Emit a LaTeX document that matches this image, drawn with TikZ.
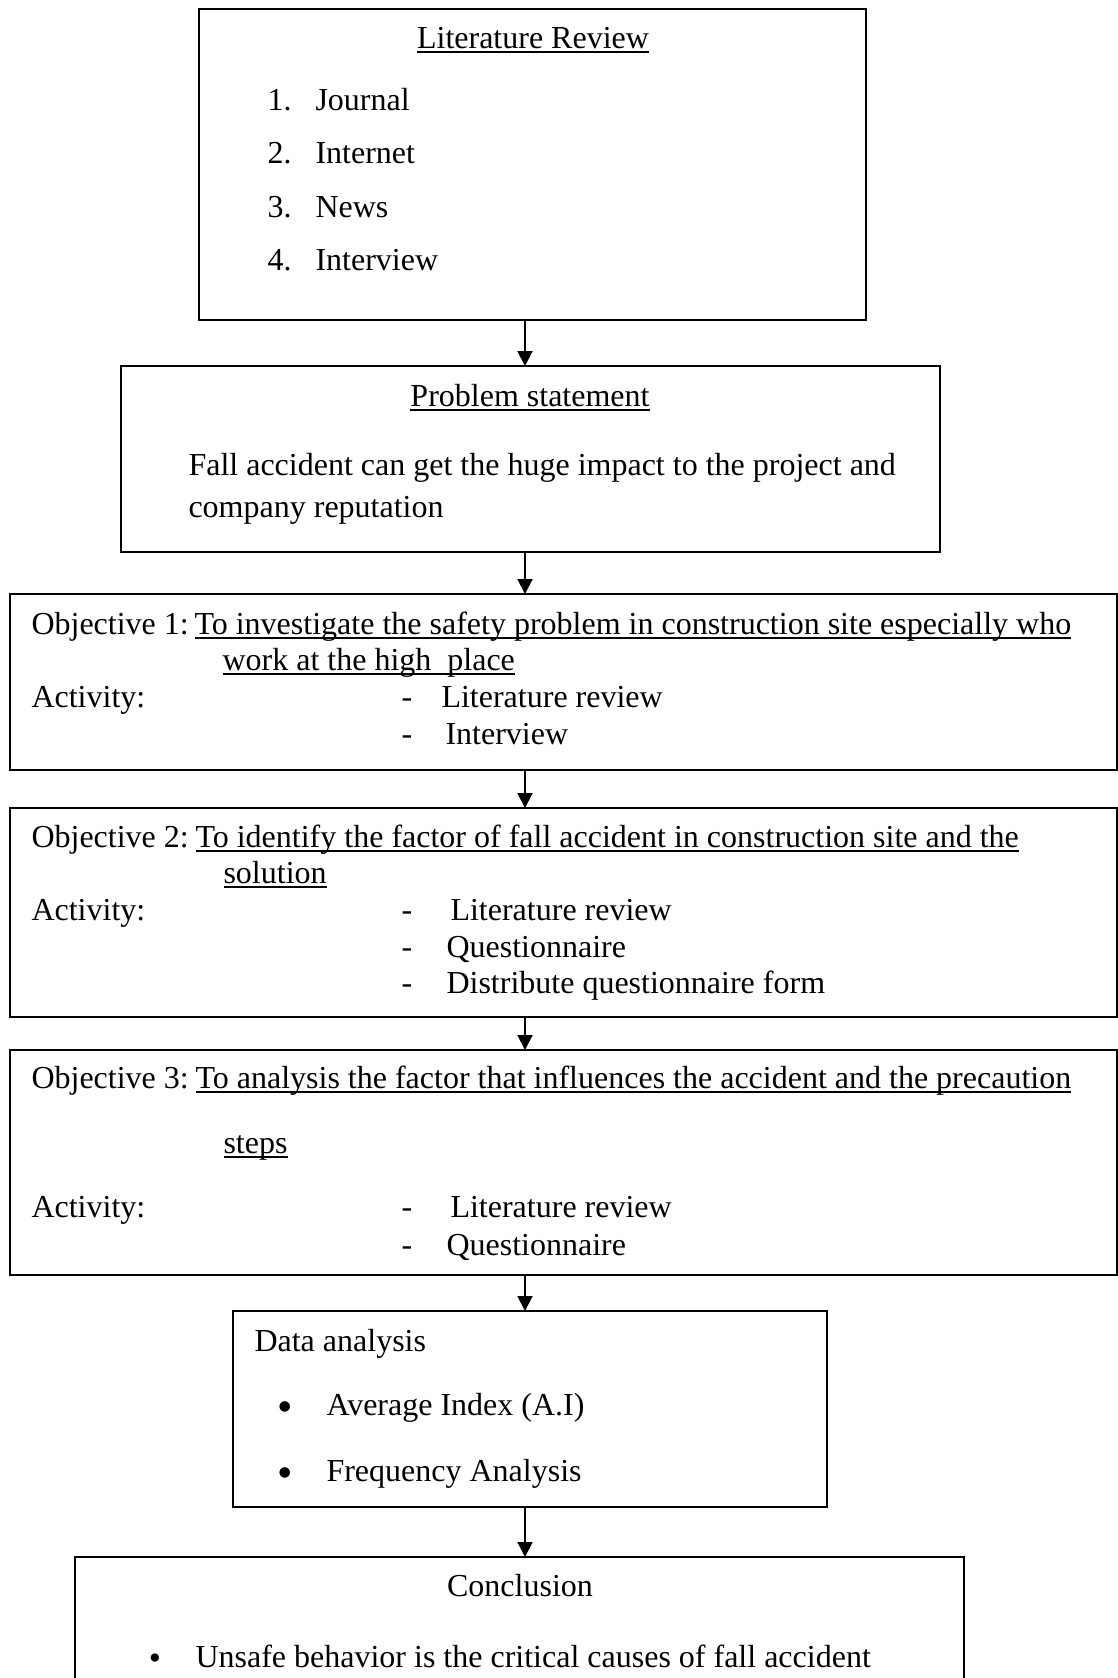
\documentclass[tikz,border=0pt]{standalone}
\usepackage{fontspec}
\setmainfont{Liberation Serif}
\usetikzlibrary{arrows.meta}
\newcommand{\ulx}[1]{\setbox0\hbox{#1}\rlap{\rule[-1.8pt]{\wd0}{0.6pt}}\box0}
\newcommand{\bx}[5]{\node[boxline,anchor=north west,minimum width={(#4-#2)*0.375pt},minimum height={(#5-#3)*0.375pt}] (#1) at (#2,#3) {};}
\newcommand{\bigbul}{\raisebox{-2.25pt}[\height][0pt]{\fontsize{16.5pt}{17pt}\selectfont •}}
\begin{document}
\begin{tikzpicture}[x=0.375pt,y=-0.375pt,
  boxline/.style={draw=black,line width=0.75pt,rectangle,inner sep=0pt,outer sep=0pt},
  txt/.style={anchor=base west,inner sep=0pt,font=\fontsize{12pt}{14pt}\selectfont},
  ctxt/.style={anchor=base,inner sep=0pt,font=\fontsize{12pt}{14pt}\selectfont},
  arr/.style={line width=0.75pt,-{Triangle[length=5.6pt,width=5.6pt]}}]
\useasboundingbox (0,0) rectangle (1118,1678);
\clip (0,0) rectangle (1118,1678);
\coordinate (ax) at (525,0);
% boxes
\bx{lit}{199}{9}{866}{320}
\bx{prob}{121}{366}{940}{552}
\bx{obj1}{10}{594}{1117}{770}
\bx{obj2}{10}{808}{1117}{1017}
\bx{obj3}{10}{1050}{1117}{1275}
\bx{data}{233}{1311}{827}{1507}
\bx{concl}{75}{1557}{964}{1700}
% arrows
\draw[arr] (lit.south -| ax) -- (prob.north -| ax);
\draw[arr] (prob.south -| ax) -- (obj1.north -| ax);
\draw[arr] (obj1.south -| ax) -- (obj2.north -| ax);
\draw[arr] (obj2.south -| ax) -- (obj3.north -| ax);
\draw[arr] (obj3.south -| ax) -- (data.north -| ax);
\draw[arr] (data.south -| ax) -- (concl.north -| ax);
% literature review
\node[ctxt] (litT) at (533,48) {\ulx{Literature Review}};
\node[txt] (litN1) at (267,110) {1.};
\node[txt] (litI1) at (315,110) {Journal};
\node[txt] (litN2) at (267,163) {2.};
\node[txt] (litI2) at (315,163) {Internet};
\node[txt] (litN3) at (267,217) {3.};
\node[txt] (litI3) at (315,217) {News};
\node[txt] (litN4) at (267,270) {4.};
\node[txt] (litI4) at (315,270) {Interview};
% problem statement
\node[ctxt] (probT) at (530,406) {\ulx{Problem statement}};
\node[txt] (probL1) at (188,475) {Fall accident can get the huge impact to the project and};
\node[txt] (probL2) at (188,517) {company reputation};
% objective 1
\node[txt] (o1a) at (31,634) {Objective 1:};
\node[txt] (o1b) at (194,634) {\ulx{To investigate the safety problem in construction site especially who}};
\node[txt] (o1c) at (222,670) {\ulx{work at the high\ \ place}};
\node[txt] (o1act) at (31,707) {Activity:};
\node[txt] (o1d1) at (401,707) {-};
\node[txt] (o1i1) at (441,707) {Literature review};
\node[txt] (o1d2) at (401,744) {-};
\node[txt] (o1i2) at (445,744) {Interview};
% objective 2
\node[txt] (o2a) at (31,847) {Objective 2:};
\node[txt] (o2b) at (195,847) {\ulx{To identify the factor of fall accident in construction site and the}};
\node[txt] (o2c) at (223,883) {\ulx{solution}};
\node[txt] (o2act) at (31,920) {Activity:};
\node[txt] (o2d1) at (401,920) {-};
\node[txt] (o2i1) at (450,920) {Literature review};
\node[txt] (o2d2) at (401,957) {-};
\node[txt] (o2i2) at (446,957) {Questionnaire};
\node[txt] (o2d3) at (401,993) {-};
\node[txt] (o2i3) at (446,993) {Distribute questionnaire form};
% objective 3
\node[txt] (o3a) at (31,1088) {Objective 3:};
\node[txt] (o3b) at (195,1088) {\ulx{To analysis the factor that influences the accident and the precaution}};
\node[txt] (o3c) at (223,1153) {\ulx{steps}};
\node[txt] (o3act) at (31,1217) {Activity:};
\node[txt] (o3d1) at (401,1217) {-};
\node[txt] (o3i1) at (450,1217) {Literature review};
\node[txt] (o3d2) at (401,1255) {-};
\node[txt] (o3i2) at (446,1255) {Questionnaire};
% data analysis
\node[txt] (dT) at (254,1351) {Data analysis};
\node[ctxt] (dB1) at (285,1415) {\bigbul};
\node[txt] (dI1) at (326,1415) {Average Index (A.I)};
\node[ctxt] (dB2) at (285,1481) {\bigbul};
\node[txt] (dI2) at (326,1481) {Frequency Analysis};
% conclusion
\node[ctxt] (cT) at (520,1596) {Conclusion};
\node[anchor=base,inner sep=0pt,font=\fontsize{13pt}{14pt}\selectfont] (cB1) at (155,1669) {•};
\node[txt] (cI1) at (195,1667) {Unsafe behavior is the critical causes of fall accident};
\end{tikzpicture}
\end{document}
